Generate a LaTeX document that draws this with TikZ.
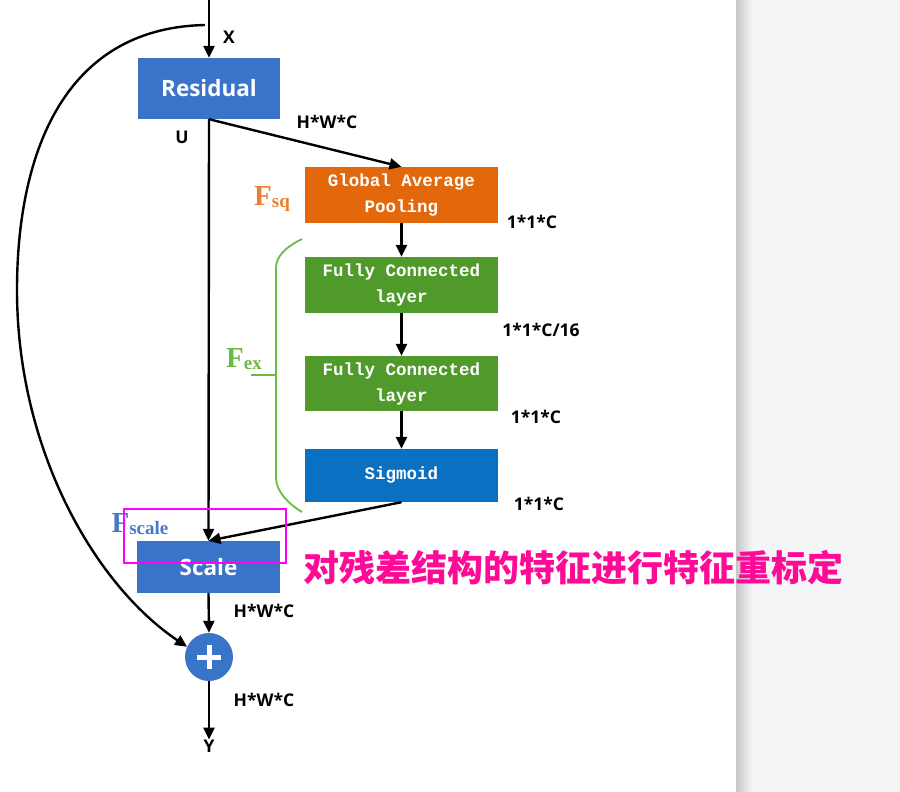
\documentclass[tikz,border=0pt]{standalone}
\usepackage{fontspec}
\setmainfont{Liberation Serif}
\setsansfont{Open Sans}
\newfontfamily\boxfont{Liberation Mono}
\newfontfamily\cjk{Noto Sans CJK SC}
\usepackage{tikz}
\usetikzlibrary{arrows.meta, positioning}

\definecolor{resblue}{HTML}{3A74C9}
\definecolor{sigblue}{HTML}{0A70C1}
\definecolor{gaporange}{HTML}{E2680B}
\definecolor{fcgreen}{HTML}{4F9A2B}
\definecolor{lblorange}{HTML}{ED7D31}
\definecolor{lblgreen}{HTML}{6DB946}
\definecolor{lblblue}{HTML}{4A78C8}
\definecolor{hotpink}{HTML}{FF0A96}
\definecolor{markmagenta}{HTML}{FF00FF}
\definecolor{panelgray}{HTML}{F4F5F7}

\begin{document}
\begin{tikzpicture}[x=1pt, y=-1pt,
	arr/.style={line width=2.4pt, -{Triangle[length=12pt,width=11pt]}},
	blk/.style={fill=resblue, text=white, inner sep=0pt, minimum width=142pt, font=\sffamily\bfseries\fontsize{22.5}{26}\selectfont},
	sebox/.style={inner sep=0pt, minimum width=193pt, text=white, align=center, font=\boxfont\bfseries\fontsize{17.5}{26}\selectfont},
	lbl/.style={inner sep=0pt, font=\sffamily\bfseries\fontsize{17.5}{20}\selectfont},
	flbl/.style={inner sep=0pt, font=\rmfamily\bfseries\fontsize{29}{32}\selectfont}]
	\useasboundingbox (0,0) rectangle (900,792);
	% right side panel
	\fill[panelgray] (736,0) rectangle (900,792);
	\shade[left color=black!22, right color=panelgray] (736,0) rectangle (752,792);

	% Blocks:
	\node[blk, minimum height=61pt] (res) at (209,88.5) {Residual};
	\node[sebox, fill=gaporange, minimum height=56pt] (gap) at (401.5,195) {Global Average\\Pooling};
	\node[sebox, fill=fcgreen, minimum height=56pt] (fc1) at (401.5,285) {Fully Connected\\layer};
	\node[sebox, fill=fcgreen, minimum height=55pt] (fc2) at (401.5,383.5) {Fully Connected\\layer};
	\node[sebox, fill=sigblue, minimum height=53pt] (sig) at (401.5,475.5) {Sigmoid};
	\node[blk, minimum width=143pt, minimum height=52pt] (scale) at (208.5,567) {Scale};
	\node[circle, fill=resblue, minimum size=48pt, inner sep=0pt] (add) at (209,657) {};
	\draw[white, line width=5pt] (add.center) ++(-12,0) -- ++(24,0);
	\draw[white, line width=5pt] (add.center) ++(0,-12) -- ++(0,24);

	% Labels:
	\node[lbl] (xlab) at (229,37) {X};
	\node[lbl] (ulab) at (182,137) {U};
	\node[lbl] (dimres) at (327,122) {H*W*C};
	\node[lbl] (dimgap) at (532,222) {1*1*C};
	\node[lbl] (dimfca) at (541,330) {1*1*C/16};
	\node[lbl] (dimfcb) at (536,417) {1*1*C};
	\node[lbl] (dimsig) at (539,504) {1*1*C};
	\node[lbl] (dimscale) at (264,611) {H*W*C};
	\node[lbl] (dimadd) at (264,700) {H*W*C};
	\node[lbl] (ylab) at (209,746) {Y};
	\node[flbl, text=lblorange] (fsq) at (272,199) {F\raisebox{-2pt}{\fontsize{19}{20}\selectfont sq}};
	\node[flbl, text=lblgreen] (fex) at (244,359) {F\raisebox{-2pt}{\fontsize{19}{20}\selectfont ex}};
	\node[flbl, text=lblblue] (fscale) at (140,524) {F\raisebox{-2pt}{\fontsize{19}{20}\selectfont scale}};
	\node[inner sep=0pt, text=hotpink, font=\cjk\bfseries\fontsize{36}{40}\selectfont] (note) at (573,568) {对残差结构的特征进行特征重标定};

	% Wires:
	\coordinate (xin) at (209,0);
	\coordinate (xtap) at (205,25);
	\draw[arr] (xin) -- (res.north);
	\draw[arr] (res.south) -- (scale.north);
	\draw[arr] (res.south) -- (gap.north);
	\draw[arr] (gap.south) -- (fc1.north);
	\draw[arr] (fc1.south) -- (fc2.north);
	\draw[arr] (fc2.south) -- (sig.north);
	\draw[arr] (sig.south) -- (scale.north);
	\draw[arr] (scale.south) -- (add.north);
	\draw[arr] (add.south) -- (ylab.north);
	\draw[arr] (xtap) .. controls (60,28) and (17,160) .. (17,290) .. controls (17,450) and (95,585) .. (add.155);

	% F_ex brace
	\draw[lblgreen, line width=1.8pt] (302,239) .. controls (286,247) and (276,256) .. (276,268) -- (276,478) .. controls (276,492) and (290,505) .. (302,512);
	\draw[lblgreen, line width=1.8pt] (251,375) -- (276,375);

	% highlight box
	\draw[markmagenta, line width=1.8pt] (124,509) rectangle (286,563);
\end{tikzpicture}
\end{document}
